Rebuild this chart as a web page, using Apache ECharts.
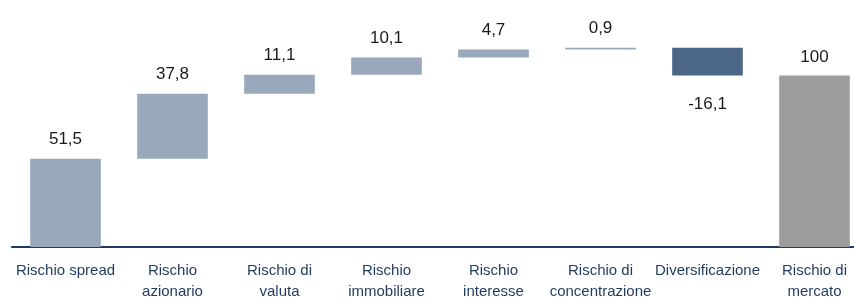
<!DOCTYPE html>
<html>
<head>
<meta charset="utf-8">
<script src="https://cdn.jsdelivr.net/npm/echarts@6/dist/echarts.min.js"></script>
<style>
html,body{margin:0;padding:0;background:#fff;}
#chart{width:854px;height:300px;}
</style>
</head>
<body>
<div id="chart"></div>
<script>
const categories = ['Rischio spread','Rischio\nazionario','Rischio di\nvaluta','Rischio\nimmobiliare','Rischio\ninteresse','Rischio di\nconcentrazione','Diversificazione','Rischio di\nmercato'];
const deltas = [51.5, 37.8, 11.1, 10.1, 4.7, 0.9, -16.1];
const total = 100;

const FONT = '"Liberation Sans", Arial, sans-serif';
const base = [], visible = [];
let cum = 0;
deltas.forEach(function (d, i) {
  const next = cum + d;
  base.push(Math.min(cum, next));
  const pos = d >= 0;
  visible.push({
    value: Math.abs(d),
    raw: d,
    itemStyle: { color: pos ? '#9aa8bb' : '#4b6687' },
    label: { position: pos ? 'top' : 'bottom', distance: pos ? 11 : 20 }
  });
  cum = next;
});
base.push(0);
visible.push({ value: total, raw: total, itemStyle: { color: '#9d9d9d' }, label: { position: 'top', distance: 10 } });

const chart = echarts.init(document.getElementById('chart'), null, { renderer: 'canvas' });
chart.setOption({
  animation: false,
  grid: { left: 12, top: 24, right: -14, bottom: 53, containLabel: false, outerBoundsMode: 'none' },
  xAxis: {
    type: 'category',
    data: categories,
    axisLine: { lineStyle: { color: '#1f3a5f', width: 2 } },
    axisTick: { show: false },
    axisLabel: { color: '#1f3a5f', fontFamily: FONT, fontSize: 15, lineHeight: 21, margin: 13, interval: 0 }
  },
  yAxis: { type: 'value', min: 0, max: 130, show: false, splitLine: { show: false } },
  series: [
    { type: 'bar', stack: 'w', data: base, itemStyle: { color: 'transparent' }, barWidth: '66%', silent: true },
    {
      type: 'bar', stack: 'w', data: visible, barWidth: '66%',
      label: {
        show: true, color: '#1a1a1a', fontFamily: FONT, fontSize: 17,
        formatter: function (p) { return String(p.data.raw).replace('.', ','); }
      }
    }
  ]
});
</script>
</body>
</html>
